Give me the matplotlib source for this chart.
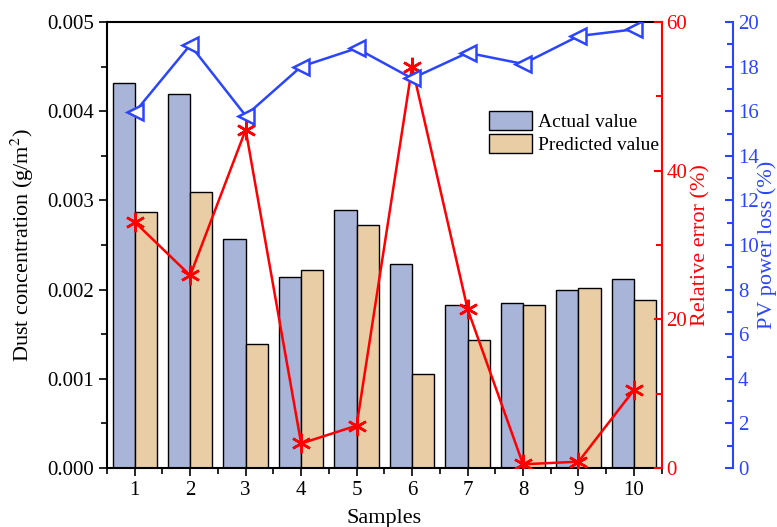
import matplotlib
matplotlib.use("Agg")
import matplotlib.pyplot as plt
import numpy as np
from matplotlib.ticker import MultipleLocator

samples = [1, 2, 3, 4, 5, 6, 7, 8, 9, 10]
actual = [0.00432, 0.00419, 0.00257, 0.00214, 0.00289, 0.00229, 0.00183, 0.00185, 0.00200, 0.00212]
predicted = [0.00287, 0.00309, 0.00139, 0.00222, 0.00272, 0.00105, 0.00143, 0.00183, 0.00202, 0.00188]
rel_error = [33.1, 25.9, 45.5, 3.3, 5.7, 54.0, 21.4, 0.5, 0.85, 10.5]
pv_loss = [15.95, 18.97, 15.8, 18.0, 18.82, 17.47, 18.62, 18.12, 19.37, 19.67]

plt.rcParams['font.family'] = ['Liberation Serif', 'DejaVu Serif']
plt.rcParams['mathtext.fontset'] = 'stix'

RED = '#FF0000'
BLUE = '#2B45FF'
fs = 15

fig = plt.figure(figsize=(7.77, 5.27), dpi=100)
ax = fig.add_axes([107/777, 1-468/527, (661.7-107)/777, (468-22)/527])

x = np.array(samples, dtype=float)
w = 0.4
ax.bar(x - w/2, actual, width=w, color='#A8B4D8', edgecolor='black', linewidth=1.0, label='Actual value', zorder=2)
ax.bar(x + w/2, predicted, width=w, color='#E8CDA5', edgecolor='black', linewidth=1.0, label='Predicted value', zorder=2)
ax.set_xlim(0.5, 10.5)
ax.set_ylim(0, 0.005)
ax.set_xticks(samples)
ax.xaxis.set_minor_locator(MultipleLocator(0.5))
ax.yaxis.set_major_locator(MultipleLocator(0.001))
ax.yaxis.set_minor_locator(MultipleLocator(0.0005))
ax.yaxis.set_major_formatter(matplotlib.ticker.FormatStrFormatter('%.3f'))
ax.tick_params(axis='both', which='major', direction='out', length=6, width=1.2, labelsize=fs)
ax.tick_params(axis='both', which='minor', direction='out', length=4, width=1.2)
ax.tick_params(axis='x', which='both', top=False)
ax.tick_params(axis='y', which='both', right=False)
ax.set_xlabel('Samples', fontsize=16, labelpad=6)
ax.set_ylabel('Dust concentration (g/m$^2$)', fontsize=16, labelpad=8)
for s in ['left', 'bottom', 'top']:
    ax.spines[s].set_linewidth(1.5)
ax.spines['right'].set_visible(False)
leg = ax.legend(loc='upper left', bbox_to_anchor=((489-107)/554.7, 1-(111-22)/446), frameon=False, fontsize=14,
                handlelength=2.2, handleheight=1.15, handletextpad=0.3, labelspacing=0.12,
                borderaxespad=0, borderpad=0)

ax2 = ax.twinx()
ax2.plot(x, rel_error, color=RED, linewidth=1.8, marker=(6, 2, 0), markersize=14,
         markeredgewidth=1.8, zorder=3)
ax2.set_ylim(0, 60)
ax2.yaxis.set_major_locator(MultipleLocator(20))
ax2.yaxis.set_minor_locator(MultipleLocator(10))
ax2.tick_params(axis='y', which='major', direction='in', length=6, width=1.5, colors=RED, labelsize=fs)
ax2.tick_params(axis='y', which='minor', direction='in', length=4, width=1.5, colors=RED)
ax2.spines['right'].set_color(RED)
ax2.spines['right'].set_linewidth(1.5)
for s in ['left', 'top', 'bottom']:
    ax2.spines[s].set_visible(False)
ax2.set_ylabel('Relative error (%)', fontsize=16, color=RED, labelpad=3)

ax3 = ax.twinx()
ax3.spines['right'].set_position(('outward', 51.5))
ax3.plot(x, pv_loss, color=BLUE, linewidth=1.8, marker='<', markersize=11,
         markerfacecolor='white', markeredgecolor=BLUE, markeredgewidth=1.8, zorder=3)
ax3.set_ylim(0, 20)
ax3.yaxis.set_major_locator(MultipleLocator(2))
ax3.yaxis.set_minor_locator(MultipleLocator(1))
ax3.tick_params(axis='y', which='major', direction='in', length=6, width=1.5, colors=BLUE, labelsize=fs)
ax3.tick_params(axis='y', which='minor', direction='in', length=4, width=1.5, colors=BLUE)
ax3.spines['right'].set_color(BLUE)
ax3.spines['right'].set_linewidth(1.5)
for s in ['left', 'top', 'bottom']:
    ax3.spines[s].set_visible(False)
ax3.set_ylabel('PV power loss (%)', fontsize=16, color=BLUE, labelpad=-1)

fig.savefig('out.png', dpi=100)
